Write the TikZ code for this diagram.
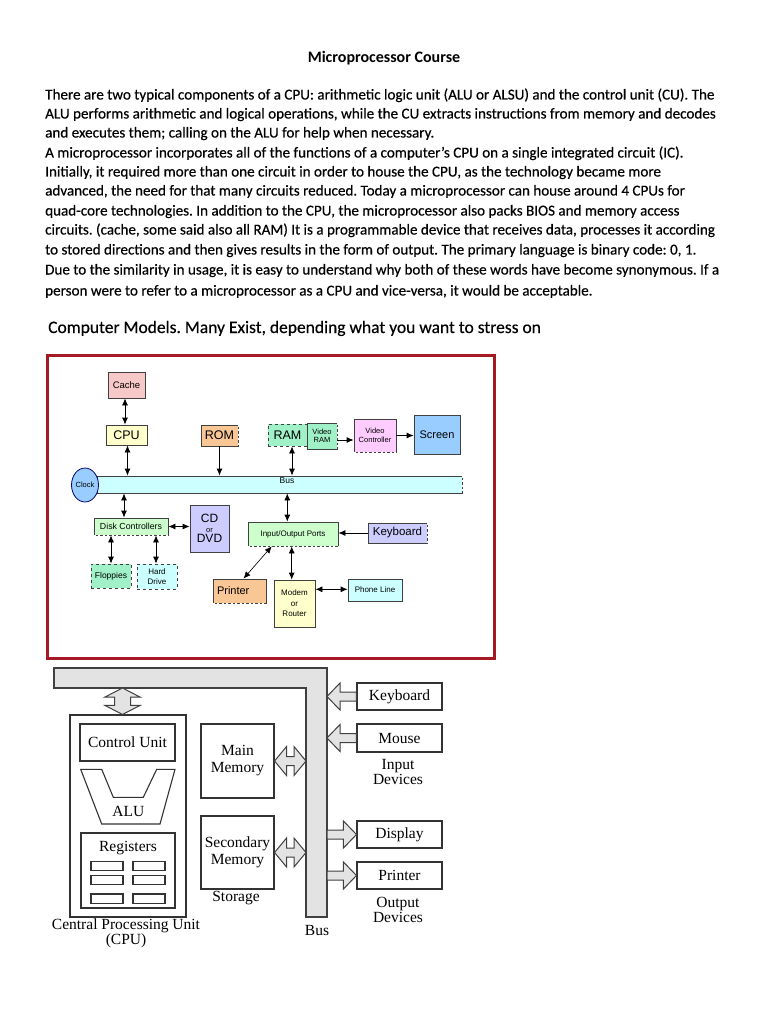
\documentclass[tikz,border=0pt]{standalone}
\usepackage{fontspec}
\setmainfont{Carlito}
\newfontfamily\lsans{Liberation Sans}
\newfontfamily\tnr{Liberation Serif}
\usetikzlibrary{arrows.meta,calc,shapes.geometric}
\frenchspacing
\definecolor{framered}{RGB}{165,25,35}
\definecolor{cpink}{RGB}{246,200,200}
\definecolor{cyell}{RGB}{255,255,204}
\definecolor{corange}{RGB}{249,198,150}
\definecolor{cmint}{RGB}{160,240,200}
\definecolor{clilac}{RGB}{255,204,255}
\definecolor{cblue}{RGB}{153,204,255}
\definecolor{ccyan}{RGB}{204,255,255}
\definecolor{cgreen}{RGB}{204,255,204}
\definecolor{clav}{RGB}{204,204,255}
\newcommand\blkL[2]{\draw[barrow] let \p1=(#1), \p2=(#2) in
  (\x1,\y1+4.5pt) -- (\x2+13pt,\y1+4.5pt) -- (\x2+13pt,\y1+13.5pt) -- (\x2,\y1) -- (\x2+13pt,\y1-13.5pt) -- (\x2+13pt,\y1-4.5pt) -- (\x1,\y1-4.5pt) -- cycle;}
\newcommand\blkR[2]{\draw[barrow] let \p1=(#1), \p2=(#2) in
  (\x1,\y1+4.5pt) -- (\x2-13pt,\y1+4.5pt) -- (\x2-13pt,\y1+13.5pt) -- (\x2,\y1) -- (\x2-13pt,\y1-13.5pt) -- (\x2-13pt,\y1-4.5pt) -- (\x1,\y1-4.5pt) -- cycle;}
\newcommand\blkD[2]{\draw[barrow] let \p1=(#1), \p2=(#2) in
  (\x1,\y1) -- (\x1+12pt,\y1+14.5pt) -- (\x1+12pt,\y1+4.5pt) -- (\x2-12pt,\y1+4.5pt) -- (\x2-12pt,\y1+14.5pt) -- (\x2,\y1) -- (\x2-12pt,\y1-14.5pt) -- (\x2-12pt,\y1-4.5pt) -- (\x1+12pt,\y1-4.5pt) -- (\x1+12pt,\y1-14.5pt) -- cycle;}
\newcommand\blkV[2]{\draw[barrow] let \p1=(#1), \p2=(#2) in
  (\x1,\y1) -- (\x1+17.5pt,\y1-9pt) -- (\x1+8pt,\y1-9pt) -- (\x1+8pt,\y2+9pt) -- (\x1+17.5pt,\y2+9pt) -- (\x1,\y2) -- (\x1-17.5pt,\y2+9pt) -- (\x1-8pt,\y2+9pt) -- (\x1-8pt,\y1-9pt) -- (\x1-17.5pt,\y1-9pt) -- cycle;}
\begin{document}
\begin{tikzpicture}[x=1pt,y=-1pt,
  bodyline/.style={anchor=base west,inner sep=0pt,font=\addfontfeature{FakeBold=0.4}\fontsize{15.1}{17}\selectfont},
  box/.style={draw=black!75,line width=0.8pt,inner sep=0pt,align=center,font=\lsans\fontsize{8.5}{9.5}\selectfont},
  gap/.style={draw=white,line width=1.2pt,dash pattern=on 2pt off 2.5pt},
  dar/.style={{Latex[length=7pt,width=6pt]}-{Latex[length=7pt,width=6pt]},line width=0.8pt},
  sar/.style={-{Latex[length=7pt,width=6pt]},line width=0.8pt},
  wb/.style={draw=black!80,line width=1.1pt,fill=white,inner sep=0pt,align=center,font=\tnr\fontsize{15.5}{17}\selectfont},
  wline/.style={draw=black!80,line width=1.1pt},
  tlbl/.style={inner sep=0pt,align=center,font=\tnr\fontsize{15.5}{15}\selectfont},
  barrow/.style={draw=black!75,fill=gray!22,line width=1pt}]
\useasboundingbox[fill=white] (0,0) rectangle (768,1024);

% ---------- text ----------
\node[inner sep=0pt,anchor=base,font=\bfseries\fontsize{16}{18}\selectfont] (title) at (384,63) {Microprocessor Course};
\node[bodyline] (l1) at (45,99.5) {There are two typical components of a CPU: arithmetic logic unit (ALU or ALSU) and the control unit (CU). The};
\node[bodyline] (l2) at (45,118.5) {ALU performs arithmetic and logical operations, while the CU extracts instructions from memory and decodes};
\node[bodyline] (l3) at (45,137.5) {and executes them; calling on the ALU for help when necessary.};
\node[bodyline] (l4) at (45,157.5) {A microprocessor incorporates all of the functions of a computer’s CPU on a single integrated circuit (IC).};
\node[bodyline] (l5) at (45,176.5) {Initially, it required more than one circuit in order to house the CPU, as the technology became more};
\node[bodyline] (l6) at (45,195.5) {advanced, the need for that many circuits reduced. Today a microprocessor can house around 4 CPUs for};
\node[bodyline] (l7) at (45,215.5) {quad-core technologies. In addition to the CPU, the microprocessor also packs BIOS and memory access};
\node[bodyline] (l8) at (45,234.5) {circuits. (cache, some said also all RAM) It is a programmable device that receives data, processes it according};
\node[bodyline] (l9) at (45,254.5) {to stored directions and then gives results in the form of output. The primary language is binary code: 0, 1.};
\node[bodyline] (l10) at (45,274.5) {Due to the similarity in usage, it is easy to understand why both of these words have become synonymous. If a};
\node[bodyline] (l11) at (45,295.5) {person were to refer to a microprocessor as a CPU and vice-versa, it would be acceptable.};
\node[anchor=base west,inner sep=0pt,font=\addfontfeature{FakeBold=0.4}\fontsize{17.5}{19}\selectfont] (models) at (48,333) {Computer Models. Many Exist, depending what you want to stress on};

% ---------- top diagram ----------
\draw[framered,line width=3pt] (47,355) rectangle (494,658);

\node[box,fill=cpink,minimum width=37,minimum height=26,font=\lsans\fontsize{9.5}{10}\selectfont] (cache) at (126.5,385) {Cache};
\node[box,fill=cyell,minimum width=41,minimum height=20,font=\lsans\fontsize{12.5}{13}\selectfont] (cpu) at (126.5,435) {CPU};
\node[box,fill=corange,minimum width=37,minimum height=21,font=\lsans\fontsize{12.5}{13}\selectfont] (rom) at (219.5,435.5) {ROM};
\draw[gap] (rom.north east) -- (rom.south east);
\node[box,fill=cmint,dashed,minimum width=39,minimum height=22,font=\lsans\fontsize{12.5}{13}\selectfont] (ram) at (287.5,435) {RAM};
\node[box,fill=cmint,minimum width=30,minimum height=26,font=\lsans\fontsize{7.5}{8.5}\selectfont] (vram) at (322,436) {Video\\RAM};
\draw[gap] (vram.north east) -- (vram.south east);
\node[box,fill=clilac,minimum width=42,minimum height=33,font=\lsans\fontsize{7.5}{9}\selectfont] (vc) at (375,435.5) {Video\\Controller};
\draw[gap] (vc.south west) -- (vc.south east);
\node[box,fill=cblue,minimum width=46,minimum height=39,font=\lsans\fontsize{11}{12}\selectfont] (scr) at (437,434.5) {Screen};
\node[box,fill=ccyan,minimum width=365,minimum height=17] (bus) at (279.5,484.5) {};
\draw[gap] (bus.north east) -- (bus.south east);
\node[inner sep=0pt,font=\lsans\fontsize{8.5}{9}\selectfont] (buslbl) at (287,481) {Bus};
\node[box,ellipse,fill=cblue,draw=blue!45!black,minimum width=27,minimum height=34,font=\lsans\fontsize{7.5}{8}\selectfont] (clock) at (85,485) {Clock};
\node[box,fill=cgreen,minimum width=74,minimum height=17,font=\lsans\fontsize{8.8}{9.5}\selectfont] (dc) at (131,526.5) {Disk Controllers};
\draw[gap] (dc.south west) -- (dc.south east);
\node[box,fill=clav,minimum width=39,minimum height=47,font=\lsans\fontsize{12}{12}\selectfont] (cd) at (209.5,528.5) {CD\\[-2pt]{\fontsize{7.5}{8}\selectfont or}\\[-2pt]DVD};
\node[box,fill=cmint,dashed,minimum width=40,minimum height=24] (fl) at (111,576) {Floppies};
\node[box,fill=ccyan,dashed,minimum width=40,minimum height=25,font=\lsans\fontsize{8}{10}\selectfont] (hd) at (157,576.5) {Hard\\Drive};
\node[box,fill=cgreen,minimum width=90,minimum height=24,font=\lsans\fontsize{8}{8.5}\selectfont] (io) at (293,534) {Input/Output Ports};
\draw[gap] (io.south west) -- (io.south east);
\node[box,fill=clav,minimum width=59,minimum height=20,font=\lsans\fontsize{11.5}{12}\selectfont] (kb) at (397.5,533) {Keyboard};
\draw[gap] (kb.north east) -- (kb.south east);
\node[box,fill=corange,minimum width=53,minimum height=24,font=\lsans\fontsize{11}{12}\selectfont,text width=45,align=left] (pr) at (239.5,591) {Printer};
\draw[gap] (pr.south west) -- (pr.south east);
\node[box,fill=cyell,minimum width=41,minimum height=47,font=\lsans\fontsize{8}{10.5}\selectfont] (mo) at (294.5,603.5) {Modem\\or\\Router};
\node[box,fill=ccyan,minimum width=54,minimum height=22,font=\lsans\fontsize{8}{9}\selectfont] (ph) at (375,590) {Phone Line};

\draw[dar] ([xshift=-1.5pt]cache.south) -- ([xshift=-1.5pt]cpu.north);
\draw[dar] ([xshift=1pt]cpu.south) -- ([xshift=1pt]cpu.south |- bus.north);
\draw[sar] (rom.south) -- (rom.south |- bus.north);
\draw[dar] ([xshift=4.5pt]ram.south) -- ([xshift=4.5pt]ram.south |- bus.north);
\draw[sar] ([yshift=-4pt]vram.east) -- ([yshift=-4pt]vram.east -| vc.west);
\draw[sar] (vc.east) -- (vc.east -| scr.west);
\draw[dar] ([xshift=-7pt]dc.north |- bus.south) -- ([xshift=-7pt]dc.north);
\draw[dar] (dc.east) -- (dc.east -| cd.west);
\draw[dar] (fl.north |- dc.south) -- (fl.north);
\draw[dar] ([xshift=-1pt]hd.north |- dc.south) -- ([xshift=-1pt]hd.north);
\draw[dar] ([xshift=-5.7pt]io.north |- bus.south) -- ([xshift=-5.7pt]io.north);
\draw[sar] (kb.west) -- (kb.west -| io.east);
\draw[dar,line width=0.6pt] ([xshift=-21.3pt]io.south) -- ([xshift=4pt]pr.north);
\draw[dar] ([xshift=-2.8pt]mo.north |- io.south) -- ([xshift=-2.8pt]mo.north);
\draw[dar] ([yshift=14.2pt]mo.east) -- ([yshift=14.2pt]mo.east -| ph.west);

% ---------- bottom diagram ----------
\draw[barrow,line width=1.1pt] (54,668) -- (327,668) -- (327,917) -- (306,917) -- (306,688) -- (54,688) -- cycle;
\coordinate (busB) at (122.5,688);
\coordinate (busL) at (306,800);
\coordinate (busR) at (327,800);

\node[wb,minimum width=116,minimum height=202] (cpubox) at (128,816) {};
\node[wb,minimum width=95,minimum height=37] (cu) at (127.5,742.5) {Control Unit};
\draw[wline] (80.7,769.3) -- (101.7,769.3) -- (113.3,797.3) -- (143.3,797.3) -- (156.7,769.3) -- (175,769.3) -- (160,824) -- (101.7,824) -- cycle;
\node[tlbl] (alu) at (128.3,811.7) {ALU};
\node[wb,minimum width=94,minimum height=75] (reg) at (128,870.5) {};
\node[tlbl] (reglbl) at (128,848) {Registers};
\foreach \yy/\hh in {866.2/9,880.1/8.5,898.6/9.3}{
  \draw[wline] (91,\yy-\hh/2) rectangle (123,\yy+\hh/2);
  \draw[wline] (133,\yy-\hh/2) rectangle (165,\yy+\hh/2);
}
\node[tlbl] (cpulbl) at (126,933) {Central Processing Unit\\(CPU)};

\node[wb,minimum width=73,minimum height=74] (mm) at (237.5,761) {Main\\Memory};
\node[wb,minimum width=73,minimum height=73] (sm) at (237.5,852.5) {Secondary\\Memory};
\node[tlbl] (stlbl) at (236,898) {Storage};

\node[wb,minimum width=85,minimum height=27] (kb2) at (399.5,696.5) {Keyboard};
\node[wb,minimum width=85,minimum height=28] (ms) at (399.5,738) {Mouse};
\node[tlbl] (inlbl) at (398,772) {Input\\Devices};
\node[wb,minimum width=85,minimum height=27] (dp) at (399.5,834.5) {Display};
\node[wb,minimum width=85,minimum height=27] (pr2) at (399.5,875.5) {Printer};
\node[tlbl] (outlbl) at (398,910) {Output\\Devices};
\node[tlbl] (buslbl2) at (317,930) {Bus};

\blkV{busB}{busB |- cpubox.north}
\blkD{mm.east}{mm.east -| busL}
\blkD{sm.east}{sm.east -| busL}
\blkL{kb2.west}{kb2.west -| busR}
\blkL{ms.west}{ms.west -| busR}
\blkR{dp.west -| busR}{dp.west}
\blkR{pr2.west -| busR}{pr2.west}
\end{tikzpicture}
\end{document}
